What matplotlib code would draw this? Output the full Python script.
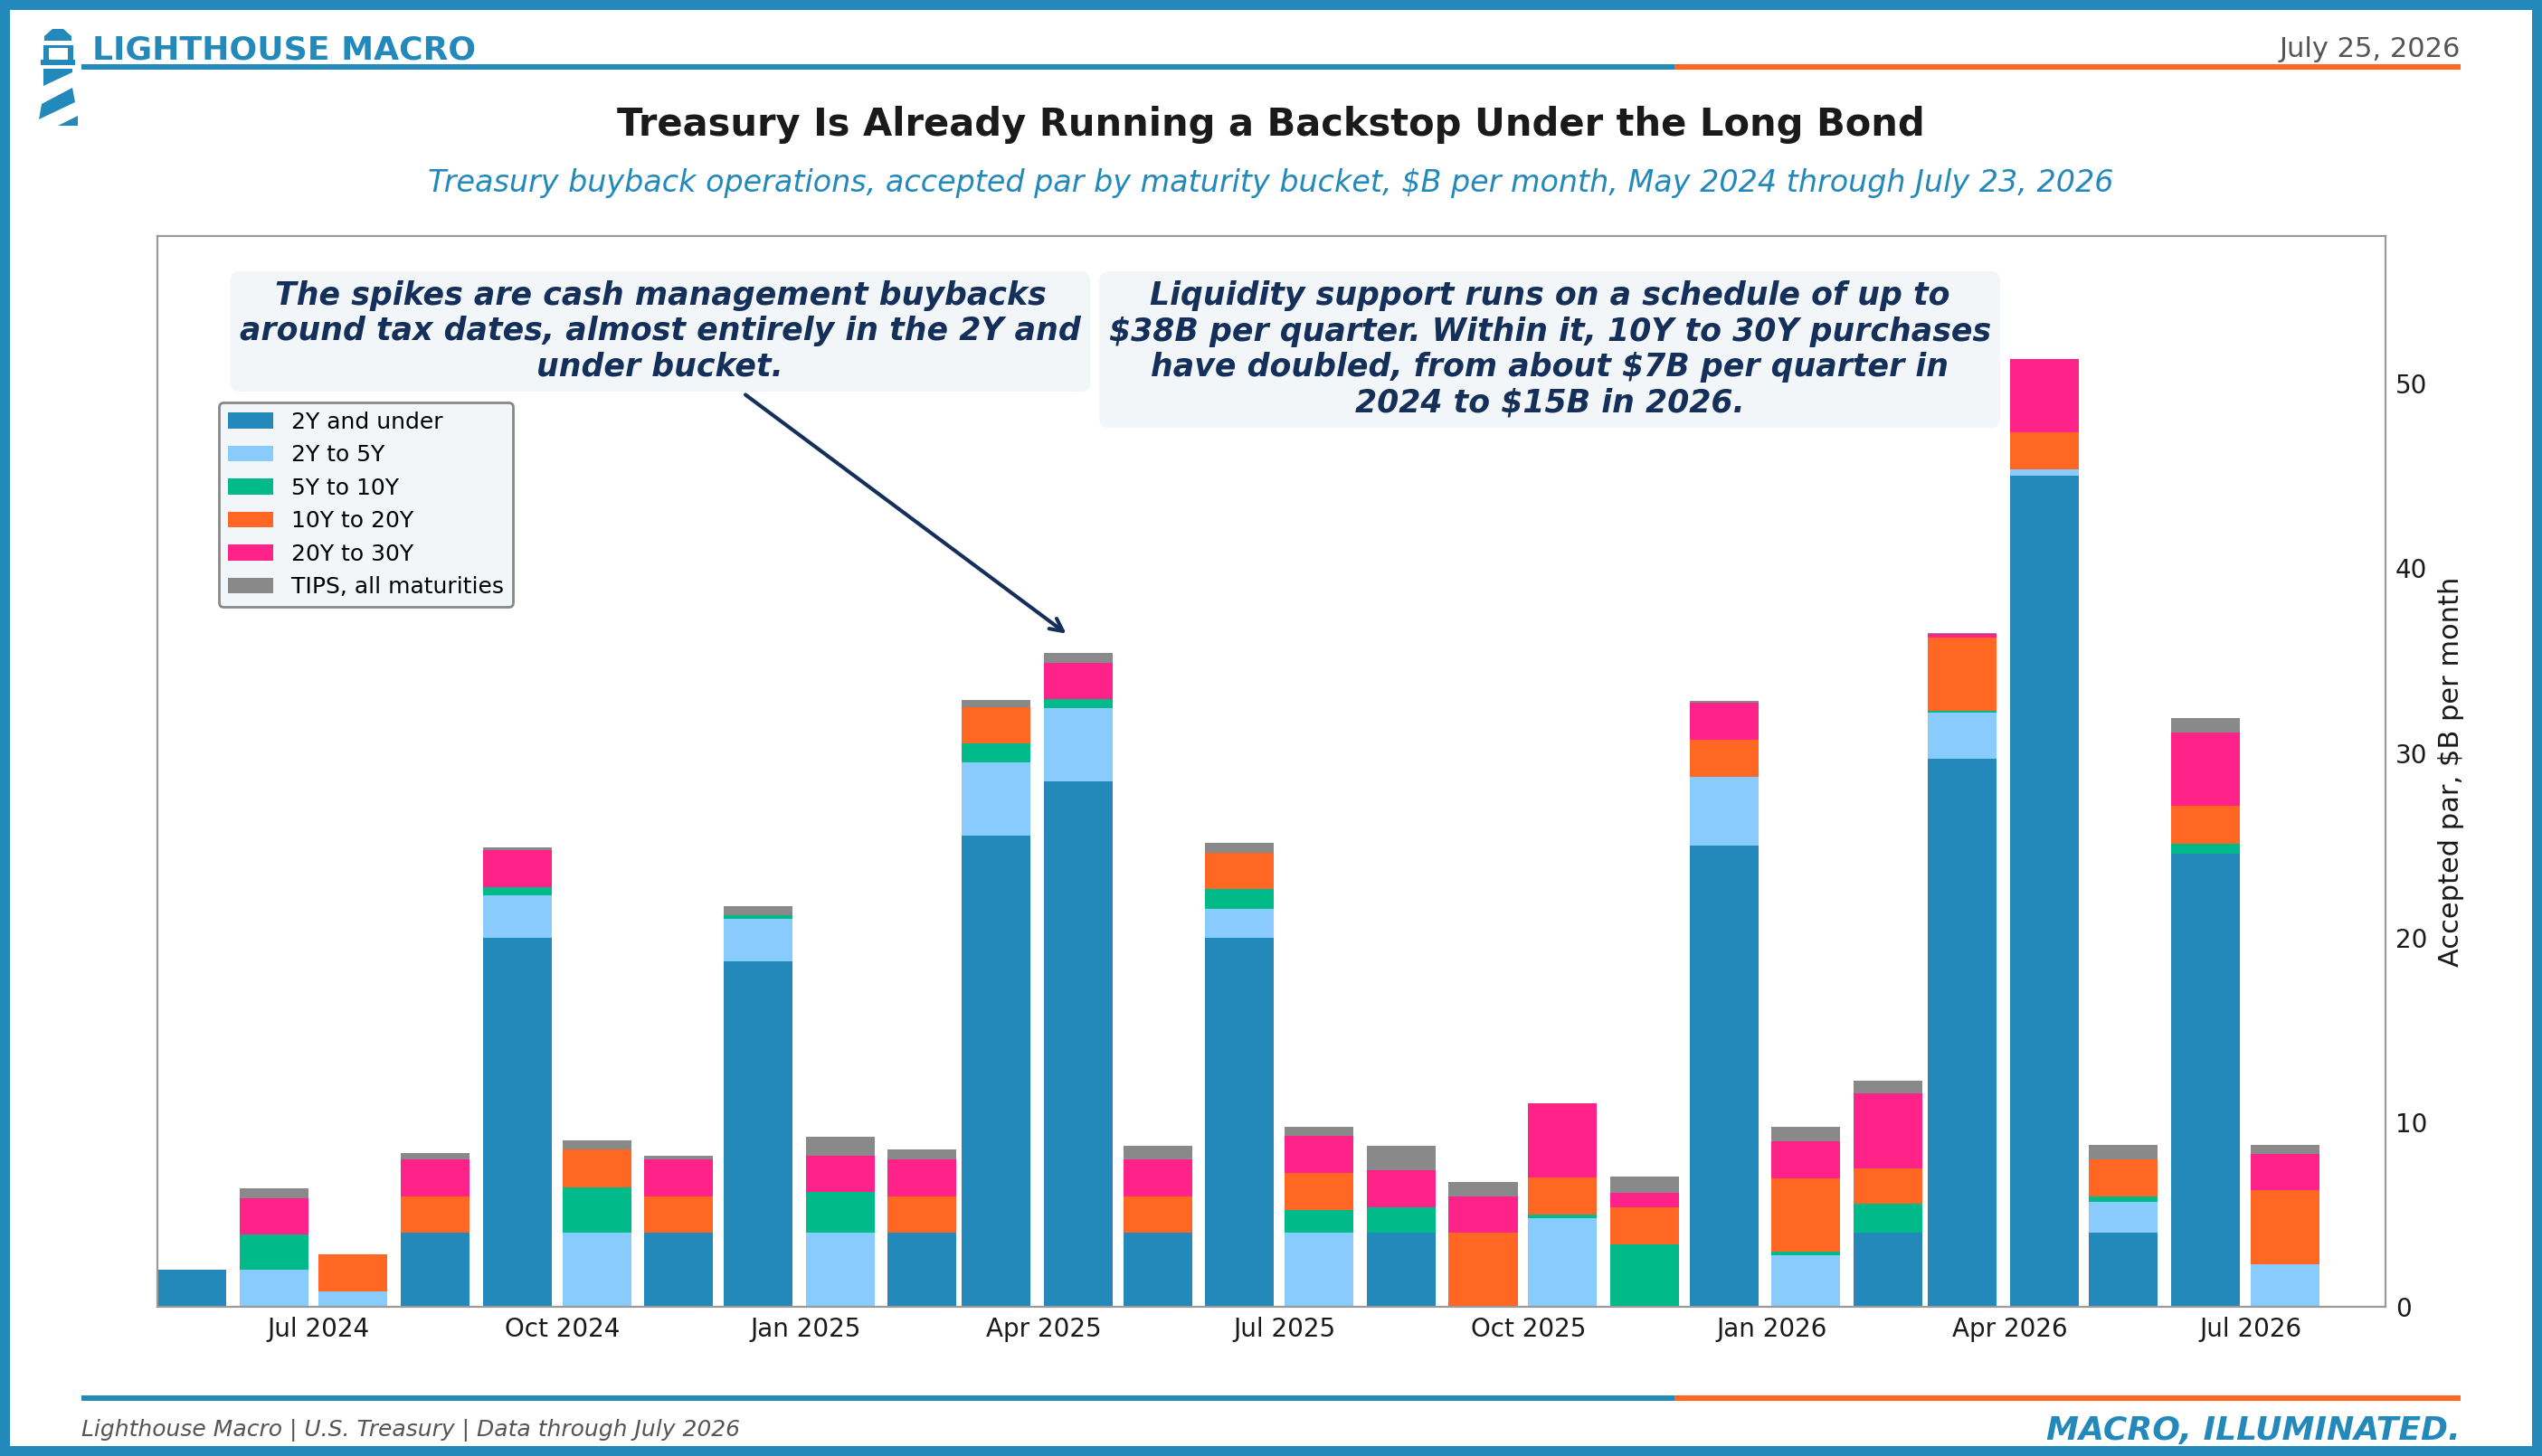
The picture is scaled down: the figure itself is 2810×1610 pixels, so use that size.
import matplotlib
matplotlib.use("Agg")
import matplotlib.pyplot as plt
import matplotlib.dates as mdates
from matplotlib.patches import Polygon, Rectangle
from datetime import datetime
import numpy as np
import pandas as pd

# ---- data: accepted par, $B per month ----
months = pd.date_range("2024-05-01", "2026-07-01", freq="MS").to_pydatetime()

two_and_under = [2.0, 0, 0, 4.0, 20.0, 0, 4.0, 18.7, 0, 4.0, 25.5, 28.45, 4.0, 20.0,
                 0, 4.0, 0, 0, 0, 25.0, 0, 4.0, 29.7, 45.0, 4.0, 24.55, 0]
two_to_five = [0, 2.0, 0.85, 0, 2.3, 4.0, 0, 2.3, 4.0, 0, 4.0, 4.0, 0, 1.55,
               4.0, 0, 0, 4.8, 0, 3.7, 2.8, 0, 2.5, 0.35, 1.67, 0, 2.3]
five_to_ten = [0, 1.9, 0, 0, 0.43, 2.45, 0, 0.2, 2.2, 0, 1.0, 0.45, 0, 1.1,
               1.25, 1.4, 0, 0.2, 3.4, 0, 0.18, 1.6, 0.07, 0, 0.3, 0.52, 0]
ten_to_twenty = [0, 0, 2.0, 2.0, 0, 2.05, 2.0, 0, 0, 2.0, 2.0, 0, 2.0, 1.95,
                 2.0, 0, 4.0, 2.0, 2.0, 2.0, 4.0, 1.9, 4.0, 2.0, 2.0, 2.05, 4.0]
twenty_to_thirty = [0, 2.0, 0, 2.0, 2.0, 0, 2.0, 0, 2.0, 2.0, 0, 2.0, 2.0, 0,
                    2.0, 2.0, 2.0, 4.0, 0.78, 2.0, 2.0, 4.05, 0.17, 4.0, 0, 4.0, 2.0]
tips = [0, 0.5, 0, 0.33, 0.14, 0.5, 0.2, 0.5, 1.0, 0.5, 0.38, 0.5, 0.7, 0.52,
        0.5, 1.3, 0.78, 0, 0.88, 0.1, 0.75, 0.72, 0.05, 0, 0.82, 0.76, 0.45]

series = [
    ("2Y and under", two_and_under, "#2389BB"),
    ("2Y to 5Y", two_to_five, "#8ACBFE"),
    ("5Y to 10Y", five_to_ten, "#00BB89"),
    ("10Y to 20Y", ten_to_twenty, "#FF6723"),
    ("20Y to 30Y", twenty_to_thirty, "#FF2389"),
    ("TIPS, all maturities", tips, "#898989"),
]

OCEAN = "#2389BB"
DUSK = "#FF6723"
NAVY = "#14305A"
W, H = 2810, 1610

fig = plt.figure(figsize=(W / 200, H / 200), dpi=200)
fig.patch.set_facecolor("white")

# ---- frame, rules and logo drawn in pixel space ----
deco = fig.add_axes([0, 0, 1, 1], zorder=-1)
deco.set_xlim(0, W)
deco.set_ylim(H, 0)
deco.axis("off")
b = 11
for r in [(0, 0, W, b), (0, H - b, W, b), (0, 0, b, H), (W - b, 0, b, H)]:
    deco.add_patch(Rectangle((r[0], r[1]), r[2], r[3], color=OCEAN, lw=0))
x0, x1, split = 90, 2720, 1851
for yy in (71, 1543):
    deco.add_patch(Rectangle((x0, yy), split - x0, 6, color=OCEAN, lw=0))
    deco.add_patch(Rectangle((split, yy), x1 - split, 6, color=DUSK, lw=0))

# lighthouse glyph
icon = [
    [(49, 45), (49, 40), (58, 32), (70, 32), (79, 40), (79, 45)],
    [(48, 50), (54, 50), (54, 67), (48, 67)],
    [(75, 50), (81, 50), (81, 67), (75, 67)],
    [(51, 50), (78, 50), (78, 53), (51, 53)],
    [(45, 66), (83, 66), (83, 72), (45, 72)],
    [(48, 76), (80, 76), (80, 80), (48, 95)],
    [(80, 97), (83, 113), (43, 132), (46, 115)],
    [(86, 128), (86, 139), (64, 139)],
]
for pts in icon:
    deco.add_patch(Polygon(pts, closed=True, color=OCEAN, lw=0))

# ---- header / footer text ----
fig.text(102 / W, 1 - 65 / H, "LIGHTHOUSE MACRO", fontsize=13, fontweight="bold",
         color=OCEAN, ha="left", va="baseline")
fig.text(2720 / W, 1 - 63 / H, "July 25, 2026", fontsize=11, color="#555555",
         ha="right", va="baseline")
fig.text(0.5, 1 - 150 / H, "Treasury Is Already Running a Backstop Under the Long Bond",
         fontsize=15, fontweight="bold", color="#1a1a1a", ha="center", va="baseline")
fig.text(0.5, 1 - 212 / H,
         "Treasury buyback operations, accepted par by maturity bucket, \\$B per month, "
         "May 2024 through July 23, 2026",
         fontsize=12, style="italic", color=OCEAN, ha="center", va="baseline")
fig.text(90 / W, 1 - 1588 / H, "Lighthouse Macro | U.S. Treasury | Data through July 2026",
         fontsize=9, style="italic", color="#555555", ha="left", va="baseline")
fig.text(2720 / W, 1 - 1592 / H, "MACRO, ILLUMINATED.", fontsize=13, fontweight="bold",
         style="italic", color=OCEAN, ha="right", va="baseline")

# ---- main chart ----
ax = fig.add_axes([174 / W, 1 - 1445 / H, (2637 - 174) / W, (1445 - 261) / H])
bottom = np.zeros(len(months))
for label, vals, col in series:
    vals = np.array(vals, dtype=float)
    ax.bar(months, vals, width=26, bottom=bottom, align="edge", color=col,
           label=label, linewidth=0)
    bottom += vals

ax.set_xlim(datetime(2024, 5, 1), datetime(2026, 8, 21))
ax.set_ylim(0, 58)
ax.xaxis.set_major_locator(mdates.MonthLocator(bymonth=[1, 4, 7, 10]))
ax.xaxis.set_major_formatter(mdates.DateFormatter("%b %Y"))
ax.yaxis.tick_right()
ax.yaxis.set_label_position("right")
ax.set_yticks([0, 10, 20, 30, 40, 50])
ax.tick_params(axis="both", length=0, labelsize=10, colors="#1a1a1a", pad=4)
ax.set_ylabel("Accepted par, \\$B per month", fontsize=11, color="#1a1a1a")
for s in ax.spines.values():
    s.set_color("#999999")
    s.set_linewidth(0.8)

leg = ax.legend(loc="upper left", bbox_to_anchor=(0.0276, 0.845), borderaxespad=0,
                fontsize=9, frameon=True, fancybox=True, framealpha=1)
leg.get_frame().set_facecolor("#F2F6F9")
leg.get_frame().set_edgecolor("#888888")

box = dict(boxstyle="round,pad=0.3", fc="#F2F6F9", ec="none")
ax.annotate("The spikes are cash management buybacks\naround tax dates, almost entirely in the 2Y and\nunder bucket.",
            xy=(datetime(2025, 4, 11), 36.3), xycoords="data",
            xytext=(0.2257, 0.911), textcoords="axes fraction",
            ha="center", va="center", fontsize=12.5, fontweight="bold", style="italic",
            color=NAVY, bbox=box,
            arrowprops=dict(arrowstyle="->", color=NAVY, lw=1.5))
ax.text(0.6249, 0.894,
        "Liquidity support runs on a schedule of up to\n\\$38B per quarter. Within it, 10Y to 30Y purchases\n"
        "have doubled, from about \\$7B per quarter in\n2024 to \\$15B in 2026.",
        transform=ax.transAxes, ha="center", va="center", fontsize=12.5,
        fontweight="bold", style="italic", color=NAVY, bbox=box)

fig.savefig("out.png", dpi=200)
